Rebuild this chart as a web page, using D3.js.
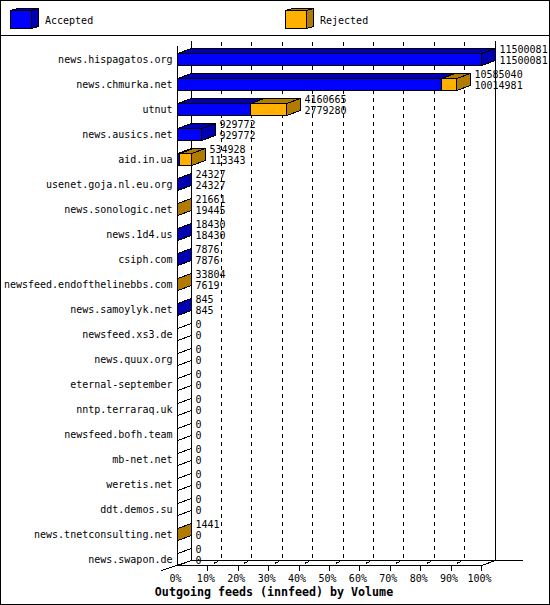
<!DOCTYPE html>
<html><head><meta charset="utf-8">
<script src="https://cdn.jsdelivr.net/npm/d3@7/dist/d3.min.js"></script>
<style>
html,body{margin:0;padding:0;background:#fff}
svg{display:block}
text{font-family:"DejaVu Sans Mono",monospace;font-size:10px;fill:#000}
</style></head><body>
<script>
const categories=["news.hispagatos.org","news.chmurka.net","utnut","news.ausics.net","aid.in.ua","usenet.goja.nl.eu.org","news.sonologic.net","news.1d4.us","csiph.com","newsfeed.endofthelinebbs.com","news.samoylyk.net","newsfeed.xs3.de","news.quux.org","eternal-september","nntp.terraraq.uk","newsfeed.bofh.team","mb-net.net","weretis.net","ddt.demos.su","news.tnetconsulting.net","news.swapon.de"];
const totalValues=[11500081,10585040,4160665,929772,534928,24327,21661,18430,7876,33804,845,0,0,0,0,0,0,0,0,1441,0];
const acceptedValues=[11500081,10014981,2779280,929772,113343,24327,19445,18430,7876,7619,845,0,0,0,0,0,0,0,0,0,0];
const percentTicks=[0,10,20,30,40,50,60,70,80,90,100];
const legendLabels=["Accepted","Rejected"];
const title="Outgoing feeds (innfeed) by Volume";

const W=550,H=605,dx=14,dy=5;
const blue="#0000ff",blueD="#0000b0",orange="#ffb000",orangeD="#b07b00";
const svg=d3.select("body").append("svg").attr("width",W).attr("height",H);
const g=svg.append("g").attr("transform","translate(.5,.5)").attr("shape-rendering","crispEdges");

const pct=d3.scaleLinear().domain([0,100]).range([177,481]);
const val=d3.scaleLinear().domain([0,d3.max(totalValues)]).range([177,481]);
const X=v=>Math.floor(val(v));
const y=d3.scaleBand().domain(categories).range([53,565]).paddingInner(.52).paddingOuter(0);

// frame
g.append("rect").attr("x",0).attr("y",0).attr("width",W-1).attr("height",H-1).attr("fill","#fff").attr("stroke","#000");
g.append("line").attr("x1",0).attr("x2",W-1).attr("y1",35).attr("y2",35).attr("stroke","#000");

// legend
function cube(x,yy,w,h,c,cd,ox,oy){
  const l=g.append("g").attr("stroke","#000").attr("stroke-linejoin","miter");
  l.append("path").attr("fill",cd).attr("d",`M${x},${yy}L${x+ox},${yy-oy}H${x+w+ox}V${yy+h-oy}L${x+w},${yy+h}V${yy}H${x}Z`);
  l.append("path").attr("fill",cd).attr("d",`M${x+w},${yy}L${x+w+ox},${yy-oy}`);
  l.append("rect").attr("fill",c).attr("x",x).attr("y",yy).attr("width",w).attr("height",h);
}
const legendX=[10,285],legendW=[21,21];
legendLabels.forEach((t,i)=>{
  cube(legendX[i],10,legendW[i],18,i?orange:blue,i?orangeD:blueD,7,2);
  svg.append("text").attr("x",legendX[i]+35).attr("y",24).text(t);
});

// grid (back wall)
const fx=p=>Math.floor(pct(p));
const bx=p=>fx(p)+dx;
const dashTicks=percentTicks.filter(p=>p>0&&p<100);
g.selectAll(".grid").data(dashTicks).join("line")
 .attr("x1",bx).attr("x2",bx).attr("y1",40).attr("y2",560)
 .attr("stroke","#000").attr("stroke-dasharray","4 4").attr("stroke-dashoffset",7);
g.append("line").attr("x1",bx(0)).attr("x2",bx(0)).attr("y1",40).attr("y2",560).attr("stroke","#000");
g.append("line").attr("x1",bx(100)).attr("x2",bx(100)).attr("y1",40).attr("y2",560).attr("stroke","#000");
g.append("line").attr("x1",bx(0)).attr("x2",522).attr("y1",560).attr("y2",560).attr("stroke","#000");
// floor diagonals
g.selectAll(".diag").data(dashTicks).join("line")
 .attr("x1",fx).attr("y1",565).attr("x2",bx).attr("y2",560)
 .attr("stroke","#000").attr("stroke-dasharray","2 5 4 9");
g.append("line").attr("x1",161).attr("y1",570).attr("x2",bx(0)).attr("y2",560).attr("stroke","#000");
g.append("line").attr("x1",fx(100)).attr("y1",565).attr("x2",bx(100)).attr("y2",560).attr("stroke","#000");

// bars
function seg(gg,x0,x1,top,h,c,cd,side){
  gg.append("path").attr("fill",cd).attr("stroke","#000")
    .attr("d",`M${x0},${top}L${x0+dx},${top-dy}H${x1+dx}L${x1},${top}Z`);
  if(side) gg.append("path").attr("fill",cd).attr("stroke","#000")
    .attr("d",`M${x1},${top}L${x1+dx},${top-dy}V${top+h-dy}L${x1},${top+h}Z`);
  gg.append("rect").attr("fill",c).attr("stroke","#000").attr("x",x0).attr("y",top).attr("width",x1-x0).attr("height",h);
}
const h=12;
const rows=g.selectAll(".row").data(categories).join("g");
rows.each(function(name,i){
  const r=d3.select(this),top=y(name),a=X(acceptedValues[i]),t=X(totalValues[i]),x0=X(0);
  if(totalValues[i]===0){
    r.append("path").attr("fill","#fff").attr("stroke","#000")
     .attr("d",`M${x0},${top}L${x0+dx},${top-dy}M${x0},${top+h}L${x0+dx},${top+h-dy}`);
    return;
  }
  const hasRej=totalValues[i]>acceptedValues[i];
  if(t===x0){
    r.append("path").attr("fill",hasRej?orangeD:blueD).attr("stroke","#000")
     .attr("d",`M${x0},${top}L${x0+dx},${top-dy}V${top+h-dy}L${x0},${top+h}Z`);
    return;
  }
  if(a>x0) seg(r,x0,a,top,h,blue,blueD,!hasRej);
  if(hasRej&&t>a) seg(r,a,t,top,h,orange,orangeD,true);
});
// front wall line
g.append("line").attr("x1",177).attr("x2",177).attr("y1",45).attr("y2",565).attr("stroke","#000");

// x axis
const xAxis=d3.axisBottom(pct).tickValues(percentTicks).tickFormat(d=>d+"%").tickSize(5).tickPadding(4).offset(0);
const ax=g.append("g").attr("transform","translate(0,565)").call(xAxis);
ax.select(".domain").attr("d","M177,0H481").attr("stroke","#000");
ax.selectAll("text").attr("dx",-2);
ax.selectAll(".tick").filter(d=>d===0).select("line").remove();
ax.attr("font-size",null).attr("font-family",null);

// y axis (category labels)
const yAxis=d3.axisLeft(y).tickSize(0).tickPadding(5).offset(0);
const ay=g.append("g").attr("transform","translate(177,0)").call(yAxis);
ay.select(".domain").remove();
ay.attr("font-size",null).attr("font-family",null);

// value labels
const lab=svg.append("g");
categories.forEach((name,i)=>{
  const x=X(totalValues[i])+dx+4.5;
  lab.append("text").attr("x",x).attr("y",y(name)).text(totalValues[i]);
  lab.append("text").attr("x",x).attr("y",y(name)+11).text(acceptedValues[i]);
});

svg.append("text").attr("x",274).attr("y",596).attr("text-anchor","middle")
 .style("font-weight","bold").style("font-size","11.65px").text(title);
</script>
</body></html>
